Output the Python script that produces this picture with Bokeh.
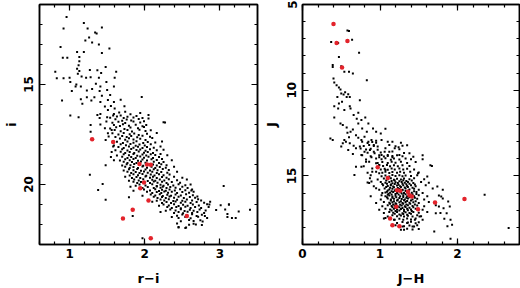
from bokeh.plotting import figure
from bokeh.layouts import row
from bokeh.models import LinearAxis, Range1d, SingleIntervalTicker
from bokeh.embed import file_html
from bokeh.resources import INLINE

# ---------------- data: left panel (r-i vs i) ----------------
left_upper = [
    (0.96, 11.62), (1.19, 11.92), (0.92, 12.20), (1.24, 12.20), (1.43, 12.15), (1.34, 12.40),
    (1.36, 12.45), (1.26, 12.65), (1.21, 12.80), (1.30, 12.90), (1.39, 13.00), (0.88, 13.12),
    (1.53, 13.20), (1.10, 13.37), (1.19, 13.37), (1.43, 13.43), (0.91, 13.66), (0.97, 13.66),
    (1.13, 13.63), (1.13, 13.84), (1.12, 14.04), (1.48, 14.13), (1.10, 14.21), (1.27, 14.28),
    (1.37, 14.29), (0.81, 14.36), (1.13, 14.33), (1.62, 14.36), (1.11, 14.46), (1.42, 14.43),
    (1.16, 14.60), (1.22, 14.66), (1.28, 14.64), (0.83, 14.69), (0.92, 14.69), (1.00, 14.66),
    (1.39, 14.66), (1.60, 14.66), (1.01, 14.88), (1.09, 15.00), (1.15, 15.10), (1.08, 15.10),
    (1.35, 14.96), (1.41, 15.10), (1.49, 14.88), (1.59, 15.10), (1.03, 15.33), (1.23, 15.30),
    (1.30, 15.22), (1.40, 15.33), (1.50, 15.27), (0.90, 15.80), (1.15, 15.74), (1.23, 15.64),
    (1.33, 15.64), (1.43, 15.56), (1.54, 15.52), (1.17, 15.96), (1.29, 15.80), (1.41, 15.88),
    (1.51, 15.77), (1.59, 15.88), (1.47, 16.10), (1.55, 16.07), (1.51, 16.27), (1.60, 16.20),
    (1.01, 16.55), (1.12, 16.64), (1.41, 16.47), (1.50, 16.64), (1.58, 16.55), (1.66, 16.40),
]

left_scatter = [
    (1.96, 15.62), (1.68, 15.76), (1.73, 16.09), (1.28, 17.02), (1.28, 17.36), (1.37, 16.52),
    (1.40, 16.68), (1.41, 17.00), (1.47, 17.19), (1.49, 16.85), (1.51, 17.44), (1.56, 17.27),
    (1.52, 17.60), (1.48, 17.78), (1.58, 18.10), (1.56, 18.37), (1.59, 18.79), (1.48, 19.04),
    (1.55, 18.62), (1.27, 19.51), (1.44, 19.97), (1.38, 20.27), (1.48, 20.76), (1.79, 20.64),
    (1.84, 21.57), (1.97, 22.69), (2.27, 16.90), (2.05, 16.70),
    (3.05, 20.08), (3.12, 21.00), (3.25, 21.35), (3.40, 21.26), (3.10, 21.48), (3.21, 21.68),
    (2.95, 21.28), (2.86, 21.00), (2.75, 20.80), (2.80, 21.57), (2.77, 21.85), (2.68, 22.00),
    (2.45, 22.15), (2.55, 22.15), (2.62, 20.30), (2.70, 20.60),
]

left_band_a = [
    (1.74, 16.36), (1.94, 16.42), (1.59, 16.47), (1.68, 16.55), (1.81, 16.49), (2.05, 16.53),
    (1.54, 16.66), (1.63, 16.60), (1.72, 16.68), (1.77, 16.61), (1.85, 16.65), (1.89, 16.58), (1.97, 16.67),
    (1.61, 16.74), (1.70, 16.81), (1.76, 16.75), (1.82, 16.80), (1.92, 16.73),
    (1.57, 16.91), (1.65, 16.86), (1.74, 16.93), (1.85, 16.85), (1.94, 16.90), (1.99, 16.84), (2.25, 16.89),
    (1.59, 17.02), (1.67, 17.08), (1.71, 16.99), (1.79, 17.06), (1.88, 17.01), (1.97, 17.09), (2.02, 17.03),
    (1.54, 17.20), (1.62, 17.14), (1.73, 17.22), (1.81, 17.15), (1.91, 17.19), (1.99, 17.13),
    (1.60, 17.27), (1.68, 17.34), (1.77, 17.28), (1.83, 17.35), (1.93, 17.26), (2.01, 17.32), (2.08, 17.29),
    (1.57, 17.44), (1.65, 17.50), (1.72, 17.43), (1.80, 17.49), (1.86, 17.45), (1.92, 17.52), (2.03, 17.46), (2.16, 17.42),
    (1.61, 17.63), (1.70, 17.57), (1.76, 17.62), (1.82, 17.58), (1.90, 17.64), (1.97, 17.56), (2.07, 17.61),
    (1.67, 17.70), (1.74, 17.76), (1.79, 17.69), (1.85, 17.75), (1.94, 17.71), (2.01, 17.77), (2.10, 17.68),
    (1.63, 17.86), (1.71, 17.92), (1.77, 17.85), (1.85, 17.91), (1.89, 17.84), (1.98, 17.93), (2.04, 17.87), (2.14, 17.90), (2.23, 17.85),
    (1.59, 18.05), (1.68, 17.99), (1.75, 18.04), (1.81, 17.98), (1.88, 18.06), (1.93, 18.00), (2.00, 18.05), (2.08, 17.99),
    (1.65, 18.12), (1.72, 18.17), (1.79, 18.10), (1.85, 18.16), (1.91, 18.11), (1.97, 18.18), (2.03, 18.13), (2.12, 18.16), (2.21, 18.10),
    (1.61, 18.29), (1.70, 18.24), (1.77, 18.30), (1.82, 18.23), (1.89, 18.28), (1.94, 18.25), (2.01, 18.31), (2.07, 18.24), (2.16, 18.29), (2.25, 18.26),
    (1.68, 18.36), (1.74, 18.42), (1.80, 18.37), (1.86, 18.43), (1.92, 18.35), (1.99, 18.41), (2.04, 18.38), (2.11, 18.43),
    (1.63, 18.55), (1.72, 18.49), (1.79, 18.54), (1.85, 18.48), (1.90, 18.56), (1.97, 18.50), (2.02, 18.55), (2.08, 18.49), (2.14, 18.53), (2.21, 18.48), (2.30, 18.54),
    (1.70, 18.61), (1.77, 18.67), (1.82, 18.62), (1.88, 18.68), (1.94, 18.60), (1.99, 18.66), (2.05, 18.61), (2.11, 18.67), (2.19, 18.62),
    (1.67, 18.80), (1.74, 18.74), (1.80, 18.79), (1.85, 18.73), (1.91, 18.81), (1.97, 18.75), (2.03, 18.80), (2.09, 18.74), (2.16, 18.78), (2.23, 18.73), (2.36, 18.79),
    (1.72, 18.86), (1.77, 18.92), (1.83, 18.87), (1.89, 18.93), (1.95, 18.85), (2.01, 18.91), (2.12, 18.86), (2.19, 18.92), (2.25, 18.87),
]

left_band_b = [
    (1.70, 19.05), (1.76, 18.99), (1.81, 19.04), (1.86, 18.98), (1.98, 19.06), (2.11, 19.00), (2.16, 19.05), (2.22, 18.99), (2.29, 19.04),
    (1.74, 19.11), (1.80, 19.17), (1.85, 19.12), (1.91, 19.18), (1.97, 19.10), (2.03, 19.16), (2.09, 19.11), (2.14, 19.17), (2.20, 19.12), (2.28, 19.16), (2.39, 19.11),
    (1.72, 19.30), (1.79, 19.24), (1.85, 19.29), (1.90, 19.23), (1.95, 19.31), (2.01, 19.25), (2.07, 19.30), (2.12, 19.24), (2.17, 19.29), (2.24, 19.23), (2.32, 19.28),
    (1.77, 19.36), (1.82, 19.42), (1.88, 19.37), (1.93, 19.43), (1.99, 19.35), (2.04, 19.41), (2.10, 19.36), (2.16, 19.42), (2.22, 19.37), (2.30, 19.41), (2.43, 19.36),
    (1.80, 19.55), (1.85, 19.49), (1.91, 19.54), (1.97, 19.48), (2.02, 19.56), (2.08, 19.50), (2.13, 19.55), (2.19, 19.49), (2.25, 19.54), (2.33, 19.50),
    (1.74, 19.61), (1.83, 19.67), (1.89, 19.62), (1.94, 19.68), (2.01, 19.60), (2.07, 19.66), (2.11, 19.61), (2.16, 19.67), (2.23, 19.62), (2.29, 19.66), (2.39, 19.61), (2.50, 19.66),
    (1.79, 19.81), (1.86, 19.75), (1.92, 19.80), (1.98, 19.74), (2.04, 19.82), (2.10, 19.76), (2.14, 19.81), (2.20, 19.75), (2.26, 19.80), (2.32, 19.74), (2.43, 19.79), (2.56, 19.75),
    (1.85, 19.86), (1.90, 19.92), (1.95, 19.87), (2.07, 19.93), (2.12, 19.85), (2.17, 19.91), (2.23, 19.86), (2.29, 19.92), (2.36, 19.87), (2.47, 19.91),
    (1.88, 20.06), (1.93, 20.00), (2.01, 20.05), (2.10, 19.99), (2.16, 20.07), (2.21, 20.01), (2.25, 20.06), (2.31, 20.00), (2.38, 20.05), (2.45, 19.99), (2.54, 20.04), (2.61, 20.00),
    (1.81, 20.11), (1.97, 20.17), (2.04, 20.12), (2.12, 20.18), (2.16, 20.10), (2.21, 20.16), (2.24, 20.11), (2.29, 20.17), (2.34, 20.12), (2.41, 20.16), (2.50, 20.11), (2.57, 20.17),
    (1.85, 20.31), (1.99, 20.25), (2.07, 20.30), (2.14, 20.24), (2.19, 20.32), (2.23, 20.26), (2.28, 20.31), (2.33, 20.25), (2.40, 20.30), (2.47, 20.24), (2.54, 20.29), (2.63, 20.25),
    (2.03, 20.36), (2.10, 20.42), (2.16, 20.37), (2.22, 20.43), (2.26, 20.35), (2.31, 20.41), (2.36, 20.36), (2.43, 20.42), (2.50, 20.37), (2.59, 20.41), (2.65, 20.36),
    (1.97, 20.56), (2.08, 20.50), (2.14, 20.55), (2.20, 20.49), (2.24, 20.57), (2.30, 20.51), (2.35, 20.56), (2.41, 20.50), (2.48, 20.55), (2.55, 20.49), (2.64, 20.54),
    (2.12, 20.61), (2.17, 20.67), (2.23, 20.62), (2.28, 20.68), (2.33, 20.60), (2.39, 20.66), (2.45, 20.61), (2.52, 20.67), (2.60, 20.62), (2.67, 20.66),
    (2.16, 20.81), (2.21, 20.75), (2.26, 20.80), (2.32, 20.74), (2.38, 20.82), (2.43, 20.76), (2.50, 20.81), (2.56, 20.75), (2.63, 20.80), (2.71, 20.74),
    (2.10, 20.86), (2.23, 20.92), (2.29, 20.87), (2.35, 20.93), (2.41, 20.85), (2.48, 20.91), (2.54, 20.86), (2.61, 20.92), (2.69, 20.87), (2.79, 20.91), (2.87, 20.86),
    (2.19, 21.06), (2.25, 21.00), (2.32, 21.05), (2.39, 20.99), (2.45, 21.07), (2.51, 21.01), (2.57, 21.06), (2.64, 21.00), (2.72, 21.05), (2.83, 20.99), (3.01, 21.04), (3.12, 21.00),
    (2.30, 21.12), (2.36, 21.18), (2.42, 21.13), (2.48, 21.19), (2.54, 21.11), (2.61, 21.17), (2.67, 21.12), (2.75, 21.18), (2.85, 21.13),
    (2.28, 21.31), (2.34, 21.25), (2.41, 21.30), (2.48, 21.24), (2.53, 21.32), (2.60, 21.26), (2.65, 21.31), (2.73, 21.25), (2.81, 21.30), (3.07, 21.25),
    (2.21, 21.37), (2.39, 21.43), (2.45, 21.38), (2.51, 21.44), (2.57, 21.36), (2.63, 21.42), (2.70, 21.37), (2.79, 21.43),
    (2.43, 21.56), (2.50, 21.50), (2.56, 21.55), (2.63, 21.49), (2.69, 21.57), (2.76, 21.51),
    (2.36, 21.62), (2.45, 21.68), (2.54, 21.63), (2.61, 21.69), (2.71, 21.61), (2.83, 21.67), (3.10, 21.62), (3.16, 21.68),
    (2.48, 21.84), (2.59, 21.78), (2.65, 21.83), (2.74, 21.79),
    (2.43, 21.95), (2.59, 22.01), (2.65, 21.96), (2.76, 22.02),
    (2.45, 22.12), (2.54, 22.18),
]

left_red_ri = [1.30, 1.58, 1.93, 2.03, 2.08, 1.99, 1.94, 2.05, 1.84, 1.71, 2.56, 2.08]
left_red_i = [17.74, 17.87, 18.97, 19.00, 19.01, 19.90, 20.19, 20.80, 21.26, 21.70, 21.57, 22.69]

# ---------------- data: right panel (J-H vs J) ----------------
right_upper = [
    (0.58, 6.51), (0.60, 6.55), (0.37, 7.19), (0.46, 7.25), (0.64, 7.05), (0.73, 7.81),
    (0.47, 8.06), (0.39, 8.53), (0.50, 8.60), (0.54, 8.93), (0.39, 8.64), (0.60, 8.93),
    (0.65, 9.03), (0.83, 9.42), (0.40, 9.32), (0.41, 9.55), (0.44, 9.71), (0.47, 9.84),
    (0.49, 9.96), (0.50, 10.19), (0.53, 10.25), (0.55, 10.12), (0.57, 10.39), (0.59, 10.23),
    (0.61, 10.39), (0.45, 10.39), (0.41, 10.93), (0.47, 10.78), (0.51, 10.68), (0.46, 11.07),
    (0.41, 11.59), (0.54, 11.16), (0.61, 10.93), (0.62, 11.07), (0.74, 10.58), (0.72, 11.32),
    (0.66, 11.45), (0.70, 11.67), (0.49, 11.94), (0.52, 12.03), (0.57, 12.17), (0.58, 12.48),
    (0.62, 12.42), (0.65, 12.29), (0.69, 12.62), (0.60, 12.75), (0.72, 12.77), (0.77, 12.23),
    (0.83, 12.42), (0.54, 12.91), (0.52, 13.10), (0.50, 13.29), (0.56, 13.00), (0.61, 13.10),
    (0.66, 13.24), (0.69, 13.39), (0.74, 13.29), (0.76, 12.91), (0.80, 12.71), (0.85, 13.00),
    (0.89, 12.91), (0.92, 13.20), (0.95, 12.95), (1.07, 12.25), (0.97, 13.29), (0.59, 13.49),
    (0.65, 13.72), (0.76, 13.78), (0.80, 13.59), (0.87, 13.49), (0.93, 13.68), (1.02, 13.78),
    (1.10, 13.84), (1.16, 13.91), (1.25, 13.78), (1.29, 13.24), (1.24, 13.33), (1.19, 13.39),
    (1.12, 13.59), (1.06, 13.59), (0.99, 13.91), (0.89, 13.91), (0.95, 14.26), (0.99, 14.36),
    (0.82, 14.17), (0.76, 14.46), (0.67, 14.94), (0.69, 14.46), (0.87, 15.14), (0.90, 14.75),
    (0.99, 14.84), (1.07, 14.65), (0.89, 15.33), (1.03, 15.47), (0.95, 15.72), (0.84, 15.39),
    (1.07, 15.97), (0.36, 12.81), (0.39, 12.91), (0.76, 11.74), (0.81, 11.59), (0.85, 11.94),
    (0.72, 11.94), (0.91, 12.23), (0.95, 12.42), (1.01, 12.52), (1.02, 12.91), (1.10, 13.00),
]

right_scatter = [
    (1.10, 16.10), (1.07, 17.46), (1.19, 17.56), (1.29, 17.95), (1.31, 18.14), (1.36, 17.71),
    (1.45, 17.56), (1.42, 17.95), (1.51, 17.36), (1.91, 18.66), (1.70, 18.24), (1.81, 15.81),
    (1.88, 16.49), (1.90, 16.78), (1.86, 17.17), (1.91, 17.56), (1.93, 17.85), (2.35, 16.10),
    (2.66, 18.04), (1.67, 14.42), (1.55, 14.03), (1.43, 13.88), (1.38, 13.68), (1.49, 14.84),
    (1.61, 15.04), (1.74, 15.62), (1.79, 16.20), (1.76, 16.78), (1.82, 16.88), (1.72, 17.17),
]

right_band_a = [
    (0.77, 13.01), (0.84, 13.08), (0.90, 13.02), (0.95, 13.07), (1.16, 13.00), (1.27, 13.06),
    (0.79, 13.26), (0.86, 13.19), (0.92, 13.25), (1.12, 13.20), (1.20, 13.27), (1.35, 13.21),
    (0.75, 13.40), (0.82, 13.46), (0.88, 13.41), (0.97, 13.47), (1.07, 13.39), (1.25, 13.45),
    (0.84, 13.65), (0.92, 13.59), (1.01, 13.64), (1.16, 13.58), (1.31, 13.66),
    (0.77, 13.79), (0.88, 13.85), (0.99, 13.80), (1.05, 13.86), (1.10, 13.78), (1.16, 13.84), (1.22, 13.79), (1.29, 13.85), (1.55, 13.80),
    (0.82, 14.04), (0.95, 13.98), (1.02, 14.03), (1.07, 13.97), (1.14, 14.05), (1.18, 13.99), (1.25, 14.04), (1.33, 13.98), (1.40, 14.03),
    (0.86, 14.18), (0.97, 14.24), (1.03, 14.19), (1.10, 14.25), (1.15, 14.17), (1.20, 14.23), (1.27, 14.18), (1.35, 14.24), (1.46, 14.19),
    (0.79, 14.43), (0.99, 14.37), (1.04, 14.42), (1.09, 14.36), (1.13, 14.44), (1.18, 14.38), (1.23, 14.43), (1.29, 14.37), (1.38, 14.42), (1.65, 14.38),
    (0.90, 14.57), (1.01, 14.63), (1.06, 14.58), (1.10, 14.64), (1.15, 14.56), (1.19, 14.62), (1.25, 14.57), (1.30, 14.63), (1.35, 14.58), (1.44, 14.62),
    (0.84, 14.82), (0.95, 14.76), (1.03, 14.81), (1.07, 14.75), (1.12, 14.83), (1.16, 14.77), (1.22, 14.82), (1.26, 14.76), (1.31, 14.81), (1.39, 14.75), (1.50, 14.80),
    (0.88, 14.96), (1.02, 15.02), (1.07, 14.97), (1.12, 15.03), (1.16, 14.95), (1.20, 15.01), (1.25, 14.96), (1.29, 15.02), (1.33, 14.97), (1.40, 15.01), (1.48, 14.96),
    (0.97, 15.21), (1.05, 15.15), (1.10, 15.20), (1.14, 15.14), (1.18, 15.22), (1.22, 15.16), (1.27, 15.21), (1.31, 15.15), (1.38, 15.20), (1.44, 15.14), (1.57, 15.19),
    (1.08, 15.26), (1.15, 15.30), (1.19, 15.27), (1.25, 15.31), (1.30, 15.25), (1.34, 15.29), (1.41, 15.27),
    (0.86, 15.41), (1.01, 15.35), (1.07, 15.40), (1.12, 15.36), (1.16, 15.42), (1.20, 15.37), (1.23, 15.41), (1.28, 15.35), (1.32, 15.40), (1.36, 15.36), (1.43, 15.41), (1.53, 15.35), (1.63, 15.40),
    (1.09, 15.46), (1.14, 15.50), (1.19, 15.47), (1.24, 15.51), (1.29, 15.45), (1.34, 15.49), (1.38, 15.46), (1.45, 15.50),
    (0.92, 15.60), (1.04, 15.54), (1.10, 15.59), (1.14, 15.55), (1.17, 15.61), (1.22, 15.56), (1.26, 15.60), (1.30, 15.54), (1.35, 15.59), (1.40, 15.55), (1.46, 15.60), (1.59, 15.54),
    (1.08, 15.65), (1.13, 15.69), (1.18, 15.66), (1.23, 15.70), (1.27, 15.64), (1.32, 15.68), (1.36, 15.65), (1.42, 15.69),
    (0.99, 15.80), (1.06, 15.74), (1.12, 15.79), (1.16, 15.75), (1.20, 15.81), (1.25, 15.76), (1.29, 15.80), (1.33, 15.74), (1.38, 15.79), (1.44, 15.75), (1.50, 15.80), (1.68, 15.74),
    (1.10, 15.85), (1.15, 15.89), (1.19, 15.86), (1.24, 15.90), (1.29, 15.84), (1.33, 15.88), (1.37, 15.85), (1.44, 15.89),
    (1.03, 15.99), (1.09, 15.93), (1.13, 15.98), (1.17, 15.94), (1.22, 16.00), (1.27, 15.95), (1.31, 15.99), (1.35, 15.93), (1.41, 15.98), (1.47, 15.94), (1.55, 15.99),
]

right_band_b = [
    (1.11, 16.04), (1.15, 16.08), (1.20, 16.05), (1.24, 16.09), (1.28, 16.03), (1.33, 16.07), (1.37, 16.04), (1.42, 16.08), (1.47, 16.05),
    (0.88, 16.19), (1.02, 16.13), (1.07, 16.18), (1.12, 16.14), (1.16, 16.20), (1.20, 16.15), (1.26, 16.19), (1.30, 16.13), (1.35, 16.18), (1.39, 16.14), (1.44, 16.19), (1.50, 16.13), (1.61, 16.18), (1.76, 16.14),
    (1.09, 16.24), (1.16, 16.28), (1.21, 16.25), (1.25, 16.29), (1.30, 16.23), (1.34, 16.27), (1.38, 16.24), (1.45, 16.28),
    (1.01, 16.38), (1.10, 16.32), (1.14, 16.37), (1.18, 16.33), (1.23, 16.39), (1.28, 16.34), (1.32, 16.38), (1.36, 16.32), (1.42, 16.37), (1.48, 16.33), (1.57, 16.38), (1.81, 16.32),
    (1.14, 16.43), (1.18, 16.47), (1.22, 16.44), (1.27, 16.48), (1.31, 16.42), (1.35, 16.46), (1.40, 16.43), (1.46, 16.47),
    (0.95, 16.58), (1.05, 16.52), (1.12, 16.57), (1.16, 16.53), (1.20, 16.59), (1.25, 16.54), (1.29, 16.58), (1.33, 16.52), (1.38, 16.57), (1.43, 16.53), (1.50, 16.58), (1.63, 16.52),
    (1.13, 16.63), (1.17, 16.67), (1.21, 16.64), (1.26, 16.68), (1.30, 16.62), (1.34, 16.66), (1.39, 16.63), (1.45, 16.67),
    (1.03, 16.77), (1.10, 16.71), (1.15, 16.76), (1.19, 16.72), (1.23, 16.78), (1.28, 16.73), (1.32, 16.77), (1.36, 16.71), (1.42, 16.76), (1.48, 16.72), (1.57, 16.77), (1.72, 16.71),
    (1.16, 16.82), (1.20, 16.86), (1.25, 16.83), (1.29, 16.87), (1.33, 16.81), (1.38, 16.85), (1.43, 16.82),
    (0.99, 16.97), (1.07, 16.91), (1.13, 16.96), (1.18, 16.92), (1.22, 16.98), (1.27, 16.93), (1.31, 16.97), (1.35, 16.91), (1.40, 16.96), (1.46, 16.92), (1.55, 16.97),
    (1.15, 17.01), (1.20, 17.05), (1.25, 17.02), (1.31, 17.06), (1.36, 17.00), (1.41, 17.04),
    (1.05, 17.16), (1.12, 17.10), (1.17, 17.15), (1.22, 17.11), (1.29, 17.17), (1.33, 17.12), (1.38, 17.16), (1.43, 17.10), (1.50, 17.15), (1.61, 17.11), (1.78, 17.16),
    (1.19, 17.21), (1.25, 17.25), (1.30, 17.22), (1.35, 17.26), (1.40, 17.20),
    (1.10, 17.36), (1.16, 17.30), (1.22, 17.35), (1.27, 17.31), (1.31, 17.37), (1.36, 17.32), (1.42, 17.36), (1.48, 17.30), (1.53, 17.35),
    (1.05, 17.49), (1.18, 17.55), (1.25, 17.50), (1.30, 17.56), (1.35, 17.48), (1.40, 17.54), (1.46, 17.49), (1.55, 17.55), (1.83, 17.50),
    (1.22, 17.75), (1.29, 17.69), (1.35, 17.74), (1.40, 17.68), (1.46, 17.76), (1.50, 17.70),
    (1.20, 17.88), (1.31, 17.94), (1.38, 17.89), (1.44, 17.95), (1.48, 17.87), (1.87, 17.93),
    (1.27, 18.14), (1.35, 18.08), (1.42, 18.13), (1.50, 18.09),
]

right_red_jh = [0.40, 0.44, 0.58, 0.51, 0.97, 1.10, 1.22, 1.26, 1.36, 1.38, 1.41, 1.21, 1.49, 1.71, 2.09, 1.13, 1.16, 1.25]
right_red_j = [6.14, 7.25, 7.13, 8.68, 14.50, 15.12, 15.84, 15.86, 15.93, 16.12, 16.20, 16.80, 16.95, 16.55, 16.35, 17.49, 17.87, 17.93]

# axis text
left_xlabel, left_ylabel = "r\u2212i", "i"
right_xlabel, right_ylabel = "J\u2212H", "J"

FONT = "DejaVu Sans"
RED = "#e3232b"


def style_axis(ax, show_labels):
    ax.major_tick_in = 6
    ax.major_tick_out = 0
    ax.minor_tick_in = 3
    ax.minor_tick_out = 0
    ax.axis_line_width = 1.5
    ax.axis_line_color = "black"
    ax.major_tick_line_width = 1.2
    ax.minor_tick_line_width = 1.2
    ax.major_tick_line_color = "black"
    ax.minor_tick_line_color = "black"
    if show_labels:
        ax.major_label_text_font = FONT
        ax.major_label_text_font_style = "bold"
        ax.major_label_text_font_size = "12px"
        ax.major_label_text_color = "black"
        ax.axis_label_text_font = FONT
        ax.axis_label_text_font_style = "bold"
        ax.axis_label_text_font_size = "13px"
        ax.axis_label_text_color = "black"
    else:
        ax.major_label_text_font_size = "0px"
        ax.major_label_standoff = 0


def make_panel(xr, yr, xlabel, ylabel, bl, br, ystand, ylabstand, pts, rx, ry):
    p = figure(width=260, height=288, x_range=Range1d(*xr), y_range=Range1d(*yr),
               x_axis_type=None, y_axis_type=None,
               output_backend="svg", toolbar_location=None,
               min_border_left=bl, min_border_right=br, min_border_top=4, min_border_bottom=44)
    p.grid.visible = False
    p.outline_line_color = "black"
    p.outline_line_width = 1.5
    p.background_fill_color = "white"
    p.border_fill_color = "white"

    xb = LinearAxis(ticker=SingleIntervalTicker(interval=1, num_minor_ticks=5), axis_label=xlabel)
    style_axis(xb, True)
    xb.major_label_standoff = 4
    xb.axis_label_standoff = 10
    p.add_layout(xb, "below")

    yl = LinearAxis(ticker=SingleIntervalTicker(interval=5, num_minor_ticks=5), axis_label=ylabel)
    style_axis(yl, True)
    yl.major_label_orientation = "vertical"
    yl.major_label_standoff = ystand
    yl.axis_label_standoff = ylabstand
    p.add_layout(yl, "left")

    xa = LinearAxis(ticker=SingleIntervalTicker(interval=1, num_minor_ticks=5))
    style_axis(xa, False)
    p.add_layout(xa, "above")

    yrr = LinearAxis(ticker=SingleIntervalTicker(interval=5, num_minor_ticks=5))
    style_axis(yrr, False)
    p.add_layout(yrr, "right")

    bx = [q[0] for q in pts]
    by = [q[1] for q in pts]
    p.scatter(bx, by, marker="square", size=2, color="black", line_width=0)
    p.scatter(rx, ry, marker="circle", size=4.5, color=RED, line_width=0)
    return p


p1 = make_panel((0.6, 3.5), (23, 11), left_xlabel, left_ylabel, 39, 3, 7, 2,
                left_upper + left_scatter + left_band_a + left_band_b, left_red_ri, left_red_i)
p2 = make_panel((0.0, 2.8), (19, 5), right_xlabel, right_ylabel, 42, 1, 6, 6,
                right_upper + right_scatter + right_band_a + right_band_b, right_red_jh, right_red_j)

layout = row(p1, p2, spacing=0)
open("out.html", "w").write(file_html(layout, INLINE))
